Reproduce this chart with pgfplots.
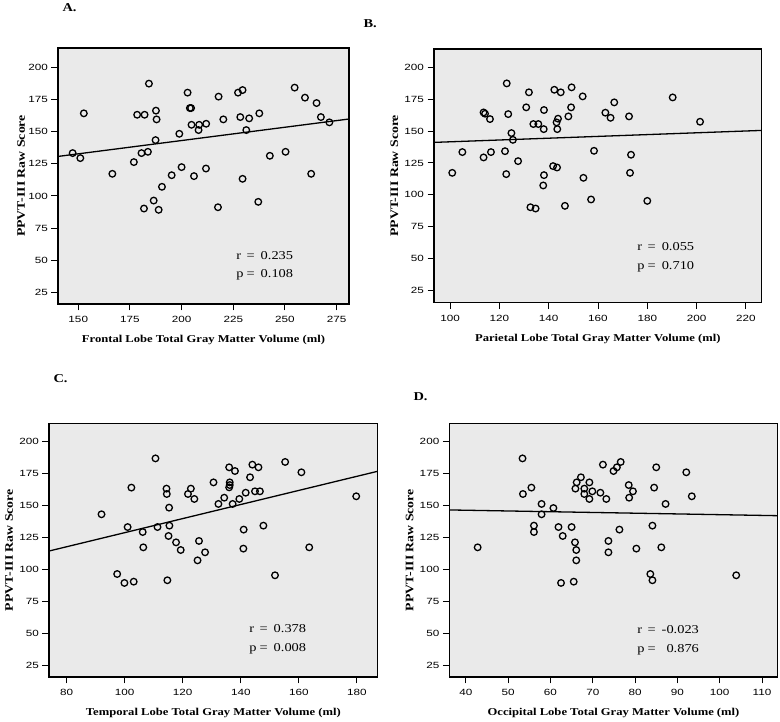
\documentclass[border=0pt]{standalone}
\usepackage{fontspec}
\setmainfont{Liberation Serif}[FakeStretch=1.2]
\newfontfamily\ticksf{Liberation Sans}[FakeStretch=1.3]
\usepackage{pgfplots}
\pgfplotsset{compat=1.18}
\definecolor{bgc}{RGB}{234,234,234}
\pgfplotsset{
  panel/.style={
    scale only axis,
    axis background/.style={fill=bgc},
    axis line style={line width=1.4pt},
    tick align=outside,
    major tick length=6.5pt,
    tick style={black, line width=0.9pt},
    xtick pos=bottom, ytick pos=left,
    ytick={25,50,...,200},
    tick label style={font=\ticksf\fontsize{9}{10}\selectfont},
    xticklabel style={yshift=-2pt},
    /pgf/number format/assume math mode=true,
    label style={font=\bfseries\fontsize{10.5}{12}\selectfont},
    xlabel style={at={(axis description cs:0.5,0)}, anchor=base, yshift=-39pt},
    ylabel={PPVT-III Raw Score},
    clip=false,
  },
  yl/.style={ylabel style={at={(axis description cs:0,0.5)}, anchor=base, yshift=#1, font=\bfseries\fontsize{11.5}{12}\selectfont}},
  pts/.style={only marks, mark=o, mark size=3.3pt, mark options={line width=1.3pt, black}},
  fit/.style={black, line width=1.3pt, no marks},
}
\newcommand{\rp}[2]{\begin{tabular}[t]{@{}l@{\hspace{3pt}}c@{\hspace{6pt}}r@{}}r&=&#1\\p&=&#2\end{tabular}}
\begin{document}
\begin{tikzpicture}[x=1pt,y=1pt]
\path[use as bounding box] (0,0) rectangle (780,722);
\node[anchor=base west, font=\bfseries\fontsize{12}{14}\selectfont] at (59,710) {A.};
\node[anchor=base west, font=\bfseries\fontsize{12}{14}\selectfont] at (360,694) {B.};
\node[anchor=base west, font=\bfseries\fontsize{12}{14}\selectfont] at (50,339) {C.};
\node[anchor=base west, font=\bfseries\fontsize{12}{14}\selectfont] at (410,321) {D.};
% ---------------- A
\begin{axis}[panel, at={(58pt,418pt)}, anchor=south west, width=291pt, height=256pt,
  xmin=140.2, xmax=281, ymin=16, ymax=215, xtick={150,175,...,275},
  xlabel={Frontal Lobe Total Gray Matter Volume (ml)}, yl=33pt]
\addplot[pts] table {
x y
147.3 133.3
151.0 129.4
152.7 164.2
166.5 117.2
176.9 126.3
178.5 163.1
182.1 163.1
180.6 133.3
183.7 134.3
184.2 187.3
181.8 90.2
186.5 96.4
187.6 166.3
187.9 159.5
187.4 143.4
188.9 89.2
190.5 107.1
195.2 116.1
198.9 148.3
200.0 122.4
202.9 180.3
204.0 168.3
204.6 168.3
204.8 155.3
206.0 115.4
208.5 155.3
208.2 151.2
211.9 156.1
211.8 121.3
217.9 177.2
217.6 91.2
220.2 159.5
227.3 180.3
229.5 182.3
228.4 161.3
229.5 113.3
231.3 151.2
232.7 160.3
237.6 164.2
237.1 95.4
242.7 131.2
250.3 134.3
254.7 184.2
259.7 176.4
262.7 117.2
265.3 172.2
267.4 161.3
271.5 157.2
};
\addplot[fit] coordinates {(140.2,130.7) (281,159.8)};
\node[anchor=base west, font=\fontsize{12}{18.4}\selectfont] at (axis description cs:0.601,0.174) {\rp{0.235}{0.108}};
\end{axis}
% ---------------- B
\begin{axis}[panel, at={(434pt,419.3pt)}, anchor=south west, width=327.7pt, height=253.7pt,
  xmin=93.5, xmax=226.4, ymin=15.3, ymax=214.4, xtick={100,120,...,220},
  xlabel={Parietal Lobe Total Gray Matter Volume (ml)}, yl=36pt]
\addplot[pts] table {
x y
100.9 117.2
105.0 133.5
113.6 164.6
114.2 163.6
116.2 159.4
113.6 129.3
116.6 133.5
123.0 187.4
123.6 163.3
124.9 148.4
125.5 143.1
122.3 134.2
122.8 116.2
127.6 126.4
130.9 168.6
132.0 180.4
132.6 90.2
134.7 89.2
133.8 155.5
135.8 155.5
138.1 166.5
138.0 151.5
138.1 115.4
137.8 107.3
142.3 182.4
144.9 180.4
141.8 122.5
143.4 121.4
143.8 159.7
143.2 156.8
143.5 151.5
146.6 91.3
149.3 184.3
149.1 168.6
148.0 161.5
153.8 177.2
154.1 113.3
158.4 134.5
157.2 96.3
163.0 164.4
165.1 160.4
166.6 172.5
172.6 161.5
173.4 131.4
173.0 117.2
180.0 95.2
190.3 176.4
201.4 157.3
};
\addplot[fit] coordinates {(93.5,141.1) (226.4,150.5)};
\node[anchor=base west, font=\fontsize{12}{18.4}\selectfont] at (axis description cs:0.61,0.205) {\rp{0.055}{0.710}};
\end{axis}
% ---------------- C
\begin{axis}[panel, at={(49pt,45pt)}, anchor=south west, width=328.7pt, height=253.7pt,
  xmin=73.9, xmax=187.2, ymin=15.6, ymax=214.4, xtick={80,100,...,180},
  xlabel={Temporal Lobe Total Gray Matter Volume (ml)}, yl=36pt]
\addplot[pts] table {
x y
92.0 143.1
97.4 96.3
99.9 89.3
103.1 90.3
101.0 133.1
102.3 164.0
106.2 129.2
106.4 117.2
110.6 186.9
111.3 133.1
114.4 163.2
114.5 159.0
115.3 148.3
115.4 134.2
115.1 126.1
114.7 91.4
117.7 121.1
119.3 115.1
121.8 159.0
122.8 163.2
124.0 155.1
125.6 122.2
125.1 107.0
127.7 113.3
130.6 168.1
132.3 151.2
134.3 156.1
136.0 179.9
136.2 168.1
136.2 166.0
136.0 164.2
137.2 151.2
138.0 177.0
139.5 155.1
141.0 131.1
140.9 116.2
141.7 160.0
143.2 172.1
144.0 182.0
146.1 179.9
144.9 161.1
146.6 161.1
147.8 134.2
151.8 95.3
155.3 184.1
160.9 176.0
163.6 117.2
179.8 157.2
};
\addplot[fit] coordinates {(73.9,114.3) (187.2,176.8)};
\node[anchor=base west, font=\fontsize{12}{18.4}\selectfont] at (axis description cs:0.599,0.174) {\rp{0.378}{0.008}};
\end{axis}
% ---------------- D
\begin{axis}[panel, at={(449.3pt,45pt)}, anchor=south west, width=328.4pt, height=253.7pt,
  xmin=36.1, xmax=113.7, ymin=15.6, ymax=214.4, xtick={40,50,...,110},
  xlabel={Occipital Lobe Total Gray Matter Volume (ml)}, yl=36pt]
\addplot[pts] table {
x y
42.8 117.2
53.4 186.9
53.5 159.0
55.5 164.0
56.1 134.2
56.1 129.2
57.9 151.2
57.9 143.1
60.7 148.0
61.9 133.1
62.9 126.1
62.5 89.3
65.0 133.1
65.8 121.1
66.1 115.1
66.1 107.0
65.5 90.3
65.9 163.2
66.2 168.1
67.2 172.1
68.0 163.2
68.0 159.0
69.2 168.1
69.2 155.1
69.9 161.1
71.8 160.0
72.4 182.0
73.2 155.1
73.7 122.2
73.7 113.3
74.9 177.0
75.7 179.9
76.6 184.1
76.3 131.1
78.5 166.0
78.6 156.1
79.5 161.1
80.3 116.2
83.6 96.3
84.1 91.4
84.1 134.2
84.5 164.0
85.0 179.9
86.2 117.2
87.2 151.2
92.1 176.0
93.4 157.2
103.9 95.3
};
\addplot[fit] coordinates {(36.1,146.5) (113.7,142.0)};
\node[anchor=base west, font=\fontsize{12}{18.4}\selectfont] at (axis description cs:0.562,0.170) {\rp{-0.023}{0.876}};
\end{axis}
\end{tikzpicture}
\end{document}
